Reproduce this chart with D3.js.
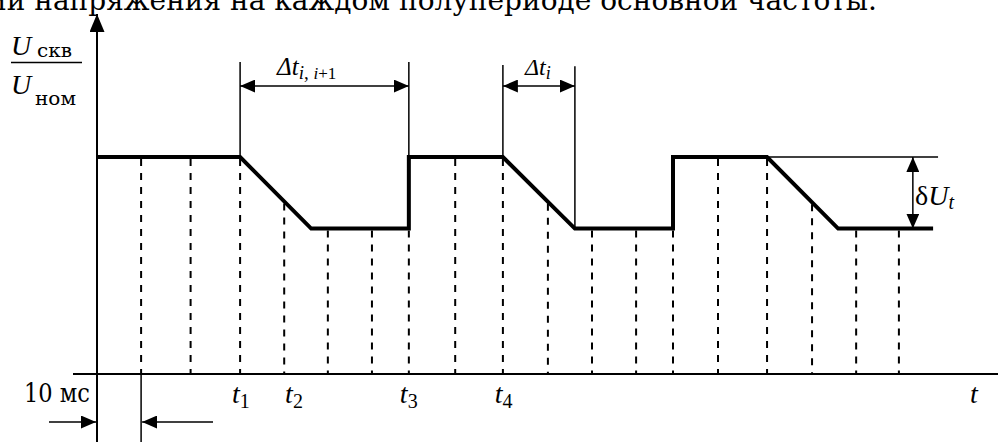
<!DOCTYPE html>
<html>
<head>
<meta charset="utf-8">
<script src="https://cdn.jsdelivr.net/npm/d3@7"></script>
<style>
  html, body { margin: 0; padding: 0; background: #fff; }
  svg { display: block; font-family: "Liberation Serif", "Times New Roman", serif; }
  .cyr { font-family: "DejaVu Serif", "Liberation Serif", serif; }
</style>
</head>
<body>
<svg id="chart"></svg>
<script>
// Chart data: time in ms, voltage as U/Unom
const signalT = [0, 31.8, 47.6, 69.3, 69.3, 90.2, 106.2, 128, 128, 148.9, 164.7, 185.8];
const signalU = [1, 1, 0.67, 0.67, 1, 1, 0.67, 0.67, 1, 1, 0.67, 0.67];
const gridT = [9.8, 20.8, 31.8, 41.6, 51.3, 61.1, 69.3, 79.6, 90.2, 100.2, 110, 119.8, 128, 138, 148.9, 158.9, 168.7, 178.2];
const tickLabels = ["t", "t", "t", "t", "t"];
const tickSubs = ["1", "2", "3", "4", ""];
const tickLabelT = [30.0, 41.8, 67.3, 88.4, 194];
const halfPeriod = 9.8; // "10 мс"
const titleText = "ии напряжения на каждом полупериоде основной  частоты.";

const width = 998, height = 442;
const svg = d3.select("#chart").attr("width", width).attr("height", height);

const x = d3.scaleLinear().domain([0, 200]).range([97, 997]);
const y = d3.scaleLinear().domain([0, 1]).range([374, 157]);

// arrow markers
const defs = svg.append("defs");
function marker(id, len, half) {
    defs.append("marker")
        .attr("id", id)
        .attr("markerUnits", "userSpaceOnUse")
        .attr("viewBox", `0 ${-half} ${len} ${half * 2}`)
        .attr("refX", len).attr("refY", 0)
        .attr("markerWidth", len).attr("markerHeight", half * 2)
        .attr("orient", "auto-start-reverse")
        .append("path")
        .attr("d", `M0,${-half}L${len},0L0,${half}Z`)
        .attr("fill", "#000");
}
marker("arr", 15, 6.5);
marker("axarr", 18, 7.5);

// title line (cut at top, as in the source page)
svg.append("text")
    .attr("class", "cyr")
    .attr("x", -12).attr("y", 10)
    .attr("font-size", 28)
    .text(titleText);

// dashed grid lines, from the signal down to the axis
function signalAt(t) {
    let vals = [];
    for (let i = 0; i < signalT.length - 1; i++) {
        const t0 = signalT[i], t1 = signalT[i + 1];
        if (t >= t0 && t <= t1) {
            if (t1 === t0) vals.push(Math.min(signalU[i], signalU[i + 1]));
            else vals.push(signalU[i] + (signalU[i + 1] - signalU[i]) * (t - t0) / (t1 - t0));
        }
    }
    return d3.min(vals);
}
svg.append("g").selectAll("line")
    .data(gridT)
    .enter().append("line")
    .attr("x1", d => x(d)).attr("x2", d => x(d))
    .attr("y1", d => y(signalAt(d)) + 2).attr("y2", y(0))
    .attr("stroke", "#000")
    .attr("stroke-width", 2)
    .attr("stroke-dasharray", "7,7");

// axes
svg.append("line")
    .attr("x1", 73).attr("x2", x(204.5))
    .attr("y1", y(0)).attr("y2", y(0))
    .attr("stroke", "#000").attr("stroke-width", 2)
    .attr("marker-end", "url(#axarr)");
svg.append("line")
    .attr("x1", x(0)).attr("x2", x(0))
    .attr("y1", height).attr("y2", 14)
    .attr("stroke", "#000").attr("stroke-width", 2)
    .attr("marker-end", "url(#axarr)");

// upper reference line for δU
svg.append("line")
    .attr("x1", x(148.9)).attr("x2", x(186.9))
    .attr("y1", y(1)).attr("y2", y(1))
    .attr("stroke", "#000").attr("stroke-width", 1.5);

// signal
const line = d3.line().x(d => x(d[0])).y(d => y(d[1]));
svg.append("path")
    .datum(signalT.map((t, i) => [t, signalU[i]]))
    .attr("d", line)
    .attr("fill", "none")
    .attr("stroke", "#000")
    .attr("stroke-width", 4)
    .attr("stroke-linejoin", "miter");

// dimension: Δt i,i+1 and Δt i
function extLine(t, u0, u1) {
    svg.append("line")
        .attr("x1", x(t)).attr("x2", x(t))
        .attr("y1", y(u0)).attr("y2", y(u1))
        .attr("stroke", "#000").attr("stroke-width", 1.5);
}
function dimArrow(t0, t1, u) {
    svg.append("line")
        .attr("x1", x(t0)).attr("x2", x(t1))
        .attr("y1", y(u)).attr("y2", y(u))
        .attr("stroke", "#000").attr("stroke-width", 1.5)
        .attr("marker-start", "url(#arr)")
        .attr("marker-end", "url(#arr)");
}
extLine(31.8, 1.438, 1);
extLine(69.3, 1.438, 1);
dimArrow(31.8, 69.3, 1.327);
extLine(90.2, 1.424, 1);
extLine(106.2, 1.418, 0.67);
dimArrow(90.2, 106.2, 1.327);

// δU arrow
svg.append("line")
    .attr("x1", x(181.3)).attr("x2", x(181.3))
    .attr("y1", y(1)).attr("y2", y(0.67))
    .attr("stroke", "#000").attr("stroke-width", 1.5)
    .attr("marker-start", "url(#arr)")
    .attr("marker-end", "url(#arr)");

// labels
const t1 = svg.append("text").attr("x", 277).attr("y", 75).attr("font-size", 25).attr("font-style", "italic");
t1.append("tspan").text("Δt");
t1.append("tspan").attr("font-size", 19).attr("dy", 4).text("i");
t1.append("tspan").attr("font-size", 19).attr("font-style", "normal").text(",  ");
t1.append("tspan").attr("font-size", 17).text("i");
t1.append("tspan").attr("font-size", 17).attr("font-style", "normal").text("+1");

const t2 = svg.append("text").attr("x", 525).attr("y", 75).attr("font-size", 24).attr("font-style", "italic");
t2.append("tspan").text("Δt");
t2.append("tspan").attr("font-size", 18).attr("dy", 4).text("i");

const du = svg.append("text").attr("x", 915).attr("y", 205).attr("font-size", 28);
du.append("tspan").text("δ");
du.append("tspan").attr("font-style", "italic").text("U");
du.append("tspan").attr("font-style", "italic").attr("font-size", 20).attr("dy", 4).text("t");

// y axis label as fraction
svg.append("text").attr("x", 11).attr("y", 55).attr("font-size", 28)
    .attr("font-style", "italic").text("U");
svg.append("text").attr("class", "cyr").attr("x", 37).attr("y", 57).attr("font-size", 18)
    .attr("textLength", 35).attr("lengthAdjust", "spacingAndGlyphs").text("скв");
svg.append("line")
    .attr("x1", 11).attr("x2", 82).attr("y1", 62.5).attr("y2", 62.5)
    .attr("stroke", "#000").attr("stroke-width", 1.5);
svg.append("text").attr("x", 11).attr("y", 94).attr("font-size", 28)
    .attr("font-style", "italic").text("U");
svg.append("text").attr("class", "cyr").attr("x", 35).attr("y", 105).attr("font-size", 18)
    .attr("textLength", 41).attr("lengthAdjust", "spacingAndGlyphs").text("ном");

// tick labels
svg.append("g").selectAll("text")
    .data(tickLabels)
    .enter().append("text")
    .attr("x", (d, i) => x(tickLabelT[i]))
    .attr("y", 403)
    .attr("font-size", 28)
    .each(function (d, i) {
        const s = d3.select(this);
        s.append("tspan").attr("font-style", "italic").text(d);
        if (tickSubs[i]) s.append("tspan").attr("font-size", 20).attr("dy", 5).text(tickSubs[i]);
    });

// 10 мс half-period marker
svg.append("line")
    .attr("x1", x(halfPeriod)).attr("x2", x(halfPeriod))
    .attr("y1", y(0)).attr("y2", height)
    .attr("stroke", "#000").attr("stroke-width", 1.5);
svg.append("line")
    .attr("x1", 49).attr("x2", x(0) - 1).attr("y1", 422).attr("y2", 422)
    .attr("stroke", "#000").attr("stroke-width", 1.5)
    .attr("marker-end", "url(#arr)");
svg.append("line")
    .attr("x1", 213).attr("x2", x(halfPeriod) + 1).attr("y1", 422).attr("y2", 422)
    .attr("stroke", "#000").attr("stroke-width", 1.5)
    .attr("marker-end", "url(#arr)");
svg.append("text")
    .attr("class", "cyr")
    .attr("x", 24).attr("y", 402)
    .attr("font-size", 26)
    .attr("textLength", 66).attr("lengthAdjust", "spacingAndGlyphs")
    .text("10 мс");
</script>
</body>
</html>
